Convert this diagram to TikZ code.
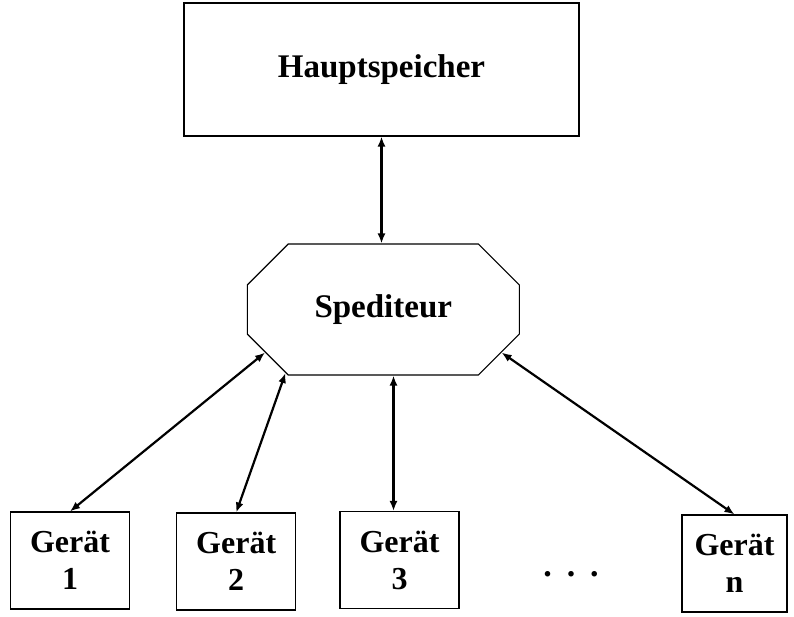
\documentclass[tikz,border=0pt]{standalone}
\usepackage{fontspec}
\setmainfont{Liberation Serif}
\usetikzlibrary{shapes.misc,arrows.meta}

\begin{document}
\begin{tikzpicture}[
  x=1pt, y=1pt,
  unit/.style={
    draw,
    line width=1.1pt,
    inner sep=0pt,
    align=center,
    font=\bfseries\fontsize{33}{38}\selectfont},
  device/.style={
    unit,
    minimum width=119pt,
    minimum height=97pt,
    font=\bfseries\fontsize{32}{37}\selectfont},
  link/.style={
    {Latex[length=10pt,width=8pt]}-{Latex[length=10pt,width=8pt]},
    line width=2.2pt}
  ]
    \useasboundingbox (0,0) rectangle (794,-616);
    \node[unit, minimum width=395pt, minimum height=133pt](haupt) at (381.5,-69.5) {Hauptspeicher};
    \node[unit, chamfered rectangle,
          chamfered rectangle xsep=26pt, chamfered rectangle ysep=26pt,
          minimum width=272pt, minimum height=131pt](sped) at (383.3,-309.5) {Spediteur};
    \node[device](g1) at (70,-560.5) {Gerät\\1};
    \node[device](g2) at (236.2,-561.5) {Gerät\\2};
    \node[device](g3) at (399.5,-560) {Gerät\\3};
    \node[device, minimum width=105pt](gn) at (734.5,-563.5) {Gerät\\n};
    \node[font=\bfseries\fontsize{34}{37}\selectfont, anchor=base](dots) at (571,-576) {.\hspace{15pt}.\hspace{15pt}.};
    \draw[link] (haupt.south) -- (haupt.south |- sped.north);
    \draw[link] (sped.200.8) -- (g1.north);
    \draw[link] (sped.213) -- (g2.north);
    \draw[link] ([xshift=-6pt]g3.north |- sped.south) -- ([xshift=-6pt]g3.north);
    \draw[link] (sped.340) -- (gn.north);
\end{tikzpicture}
\end{document}
